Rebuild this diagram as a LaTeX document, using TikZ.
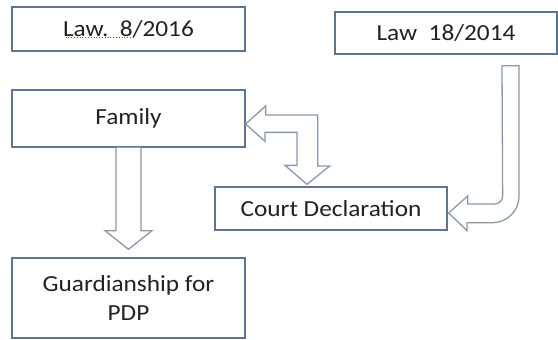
\documentclass[tikz,border=0pt]{standalone}
\usepackage{fontspec}
\setmainfont[FakeStretch=1.1]{Carlito}
\usetikzlibrary{calc}
\definecolor{boxline}{HTML}{5B7592}
\definecolor{arrline}{HTML}{8799AE}
\definecolor{txt}{HTML}{222222}
\definecolor{marks}{HTML}{3E4FC8}
\begin{document}
\begin{tikzpicture}[x=1pt,y=-1pt,
    box/.style={draw=boxline, line width=1.3pt, fill=white, inner sep=0pt,
      text=txt, font=\fontsize{23}{29}\selectfont},
    blockarrow/.style={draw=arrline, line width=1.3pt, fill=white, line join=miter}]
  \useasboundingbox (0,0) rectangle (558,340);

  \node[box, minimum width=233pt, minimum height=44pt] (law8) at (128.5,29) {Law.\ \ 8/2016};
  \node[box, minimum width=222pt, minimum height=42pt] (law18) at (446,33) {Law\ \ 18/2014};
  \node[box, minimum width=233pt, minimum height=57pt] (family) at (128.5,118.5) {Family};
  \node[box, minimum width=232pt, minimum height=43pt] (court) at (331,208.5) {Court Declaration};
  \node[box, minimum width=233pt, minimum height=80pt, align=center] (guard) at (128.5,298) {Guardianship for\\PDP};

  % word marks under the first law
  \draw[marks, dotted, line width=0.8pt] ($(law8.center)+(-63,8.5)$) -- ++(68,0);

  % family -> guardianship
  \draw[blockarrow] ($(family.south)+(-12.5,0)$) -- ++(0,83) -- ++(-11,0)
    -- ($(guard.north)+(0,-8)$) -- ($(family.south)+(23.5,83)$) -- ++(-11,0)
    -- ($(family.south)+(12.5,0)$);

  % family <-> court declaration
  \draw[blockarrow] ($(family.east)+(0,5.5)$) -- ++(20,-18) -- ++(0,9) -- ++(52,0)
    -- ++(0,51) -- ++(12,0) -- ($(court.north)+(-24,-2)$) -- ++(-22,-19) -- ++(12,0)
    -- ++(0,-33) -- ++(-32,0) -- ++(0,9) -- cycle;

  % law 18/2014 -> court declaration
  \draw[blockarrow] ($(law18.south)+(56,11)$) -- ++(17,0) -- ++(0,131)
    .. controls +(0,14) and +(14,0) .. ++(-26,26) -- ++(-26,0) -- ++(0,8)
    -- ($(court.east)+(1,4.5)$) -- ++(19,-17) -- ++(0,8) -- ++(27,0)
    .. controls +(4.4,0) and +(0,4.4) .. ++(8,-8) -- cycle;
\end{tikzpicture}
\end{document}
